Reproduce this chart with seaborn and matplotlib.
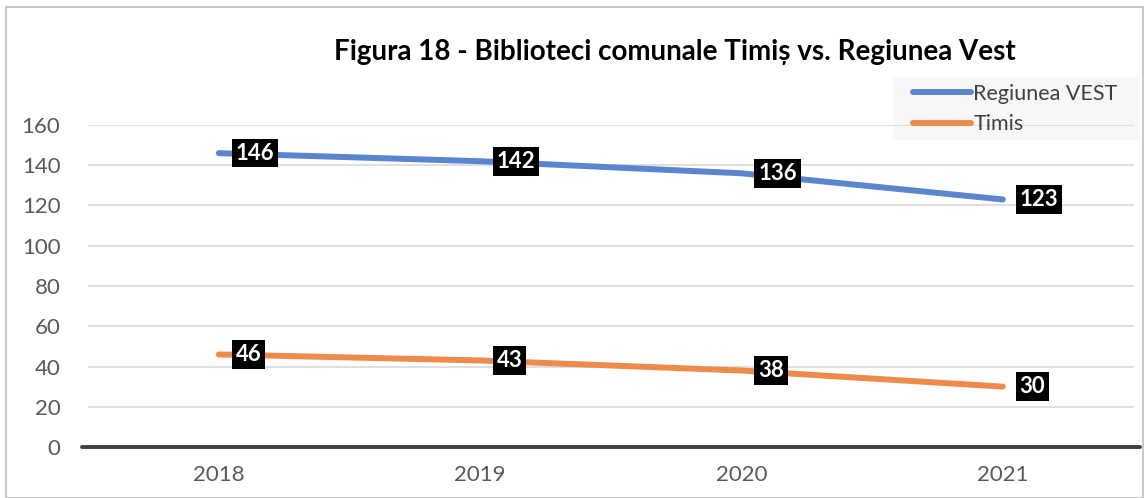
import matplotlib
matplotlib.use("Agg")
import matplotlib.pyplot as plt
import seaborn as sns
import pandas as pd
from matplotlib.patches import Rectangle

years = ["2018", "2019", "2020", "2021"]
vest = [146, 142, 136, 123]
timis = [46, 43, 38, 30]
series_names = ["Regiunea VEST", "Timis"]
colors = {"Regiunea VEST": "#5a85cf", "Timis": "#ef8b4a"}

df = pd.DataFrame({
    "year": years * 2,
    "value": vest + timis,
    "series": [series_names[0]] * len(years) + [series_names[1]] * len(years),
})

sns.set_style("white")
plt.rcParams["font.family"] = ["Lato", "DejaVu Sans"]

fig = plt.figure(figsize=(11.45, 4.98), dpi=100)
ax = fig.add_axes([0.077, 0.1024, 0.913, 0.6466])
ax.patch.set_alpha(0)

sns.lineplot(data=df, x="year", y="value", hue="series", palette=colors,
             linewidth=4.3, ax=ax, legend=False, sort=False,
             solid_capstyle="round", zorder=3)

# data labels, black boxes to the right of the points
for name, vals in zip(series_names, [vest, timis]):
    for i, v in enumerate(vals):
        ax.annotate(str(v), (i, v), xytext=(12, 0), textcoords="offset points",
                    ha="left", va="center", color="white", fontsize=16,
                    fontweight="bold", zorder=4,
                    bbox=dict(boxstyle="square,pad=0.17", fc="black", ec="none"))

ax.set_xlim(-0.5, 3.5)
ax.set_ylim(0, 160)
ax.set_yticks(range(0, 161, 20))
ax.yaxis.grid(True, color="#d9d9d9", linewidth=1.2)
ax.set_axisbelow(True)
for s in ["top", "right", "left", "bottom"]:
    ax.spines[s].set_visible(False)
ax.axhline(0, xmin=-0.006, xmax=1.006, color="#404040", linewidth=2.8, zorder=2, clip_on=False)
ax.tick_params(axis="both", length=0, labelsize=16, labelcolor="#595959")
ax.tick_params(axis="y", pad=20)
ax.tick_params(axis="x", pad=13)
ax.set_xlabel("")
ax.set_ylabel("")

fig.text(0.5895, 0.896, "Figura 18 - Biblioteci comunale Timiș vs. Regiunea Vest",
         ha="center", va="center", fontsize=20, fontweight="bold", color="black")

# legend background box, behind the gridlines
fig.patches.append(Rectangle((0.780, 0.719), 0.216, 0.124, transform=fig.transFigure,
                             facecolor="#f7f7f7", edgecolor="none", zorder=-1))
handles = [plt.Line2D([], [], color=colors[n], linewidth=4.3, solid_capstyle="round")
           for n in series_names]
leg = fig.legend(handles, series_names, loc="upper left", bbox_to_anchor=(0.797, 0.832),
                 frameon=False, fontsize=15.5, handlelength=2.7, handletextpad=0.12,
                 labelspacing=0.5, borderpad=0, borderaxespad=0)
leg.set_zorder(6)
for t in leg.get_texts():
    t.set_color("#404040")

fig.patches.append(Rectangle((0.005, 0.0), 0.993, 0.985, transform=fig.transFigure,
                             fill=False, edgecolor="#bfbfbf", linewidth=1.2))

fig.savefig("out.png", dpi=100)
